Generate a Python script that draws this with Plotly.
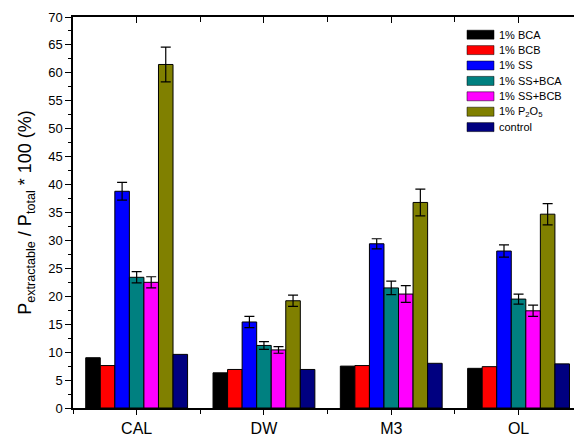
import plotly.graph_objects as go

categories = ["CAL", "DW", "M3", "OL"]
series_names = ["1% BCA", "1% BCB", "1% SS", "1% SS+BCA", "1% SS+BCB",
                "1% P<sub>2</sub>O<sub>5</sub>", "control"]
series_colors = ["#000000", "#ff0000", "#0000ff", "#008080", "#ff00ff", "#808000", "#000080"]

bca = [9.0, 6.3, 7.5, 7.1]
bcb = [7.6, 6.9, 7.6, 7.4]
ss = [38.8, 15.4, 29.4, 28.1]
ss_bca = [23.4, 11.2, 21.5, 19.5]
ss_bcb = [22.5, 10.4, 20.4, 17.4]
p2o5 = [61.5, 19.2, 36.8, 34.7]
control = [9.6, 6.9, 8.0, 7.9]

err_ss = [1.6, 1.0, 0.9, 1.1]
err_ss_bca = [1.0, 0.7, 1.2, 0.9]
err_ss_bcb = [1.0, 0.6, 1.5, 1.0]
err_p2o5 = [3.1, 1.0, 2.4, 1.9]

values = [bca, bcb, ss, ss_bca, ss_bcb, p2o5, control]
errors = [None, None, err_ss, err_ss_bca, err_ss_bcb, err_p2o5, None]

y_ticks = list(range(0, 71, 5))

xpos = [i + 1 for i in range(len(categories))]
font_family = "Arial, Liberation Sans, sans-serif"

fig = go.Figure()
for name, vals, err, col in zip(series_names, values, errors, series_colors):
    kw = {}
    if err is not None:
        kw["error_y"] = dict(type="data", array=err, visible=True,
                             color="black", thickness=1.2, width=5)
    fig.add_trace(go.Bar(x=xpos, y=vals, name=name, marker_color=col,
                         marker_line=dict(color="black", width=1),
                         showlegend=False, **kw))

# custom legend (swatches + labels)
L, R, T, B = 73, 574, 17, 408
W, H = R - L, B - T
row0 = 34.7
row_step = 15.4
for i, (name, col) in enumerate(zip(series_names, series_colors)):
    yc = row0 + i * row_step
    fig.add_shape(type="rect", xref="paper", yref="paper",
                  x0=(467 - L) / W, x1=(494 - L) / W,
                  y0=(B - (yc + 4.5)) / H, y1=(B - (yc - 4.5)) / H,
                  fillcolor=col, line=dict(color="black", width=0.5))
    fig.add_annotation(xref="paper", yref="paper", x=(497 - L) / W,
                       y=(B - yc) / H, text=name, showarrow=False,
                       xanchor="left", yanchor="middle",
                       font=dict(size=11, color="black", family=font_family))

fig.update_layout(
    width=574, height=438,
    margin=dict(l=73, r=0, t=17, b=30, autoexpand=False),
    paper_bgcolor="white", plot_bgcolor="white",
    barmode="group", bargap=0.2, bargroupgap=0,
    font=dict(family=font_family, color="black"),
    xaxis=dict(range=[0.5, 0.5 + W / 127.3], tickmode="array", tickvals=xpos,
               ticktext=categories, ticks="outside", ticklen=5, tickwidth=1,
               tickcolor="black", showline=True, linecolor="black", linewidth=1.5,
               showgrid=False, zeroline=False, tickfont=dict(size=16),
               automargin=False,
               minor=dict(tick0=0.5, dtick=1, ticks="outside", ticklen=4,
                          tickcolor="black", tickwidth=1)),
    xaxis2=dict(range=[0.5, 0.5 + W / 127.3], overlaying="x", side="top",
                tickmode="array", tickvals=xpos, showticklabels=False,
                ticks="inside", ticklen=6, tickcolor="black", tickwidth=1,
                showline=True, linecolor="black", linewidth=1.5,
                showgrid=False, zeroline=False, automargin=False,
                minor=dict(tick0=0.5, dtick=1, ticks="inside", ticklen=5,
                           tickcolor="black", tickwidth=1)),
    yaxis=dict(range=[0, 70], tickmode="array", tickvals=y_ticks,
               ticks="outside", ticklen=6, tickwidth=1, tickcolor="black",
               showline=True, linecolor="black", linewidth=1.5,
               showgrid=False, zeroline=False, tickfont=dict(size=13),
               automargin=False,
               minor=dict(dtick=2.5, ticks="outside", ticklen=3,
                          tickcolor="black", tickwidth=1),
               title=dict(text="P<sub>extractable</sub> / P<sub>total</sub> * 100 (%)",
                          font=dict(size=18), standoff=12)),
)
# invisible trace to activate the top axis
fig.add_trace(go.Scatter(x=[1], y=[0], xaxis="x2", mode="markers",
                         marker=dict(opacity=0), showlegend=False, hoverinfo="skip"))

fig.write_html("out.html", config={"displayModeBar": False},
               post_script="document.body.style.margin='0';document.body.style.overflow='hidden';")
